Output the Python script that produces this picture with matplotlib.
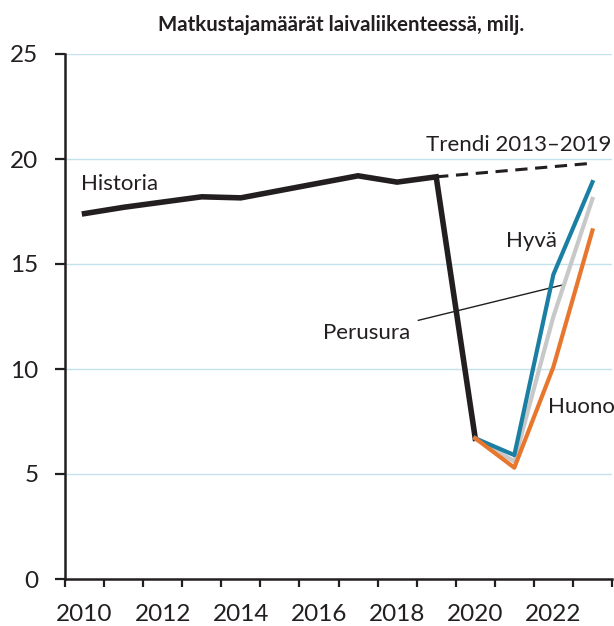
import matplotlib
matplotlib.use('Agg')
import matplotlib.pyplot as plt

# Data (milj. matkustajaa)
hist_years = [2010, 2011, 2012, 2013, 2014, 2015, 2016, 2017, 2018, 2019, 2020]
historia = [17.4, 17.7, 17.95, 18.2, 18.15, 18.5, 18.85, 19.2, 18.9, 19.15, 6.7]

scen_years = [2020, 2021, 2022, 2023]
hyva = [6.7, 5.9, 14.5, 18.9]
perusura = [6.7, 5.6, 12.5, 18.1]
huono = [6.7, 5.3, 10.1, 16.6]

trend_years = [2019, 2023]
trendi = [19.15, 19.8]

label_years = [2010, 2012, 2014, 2016, 2018, 2020, 2022]
y_ticks = [0, 5, 10, 15, 20, 25]

# colours
black = '#231f20'
blue = '#1a7fa3'
grey = '#c8c8c8'
orange = '#e8772e'
grid_color = '#c3e2eb'

plt.rcParams['font.family'] = ['Lato', 'DejaVu Sans']

fig = plt.figure(figsize=(6.14, 6.26), dpi=100)
ax = fig.add_axes([65 / 614, 47 / 626, 547 / 614, 525 / 626])

# gridlines
for y in y_ticks[1:]:
    ax.axhline(y, color=grid_color, lw=1.0, zorder=0)

ax.plot(hist_years, historia, color=black, lw=4.0, solid_joinstyle='miter', zorder=3, clip_on=False)
ax.plot(trend_years, trendi, color=black, lw=2.2, ls=(0, (4, 2.5)), zorder=3, clip_on=False)
ax.plot(scen_years, perusura, color=grey, lw=3.0, zorder=4, clip_on=False)
ax.plot(scen_years, hyva, color=blue, lw=3.0, zorder=5, clip_on=False)
ax.plot(scen_years, huono, color=orange, lw=3.0, zorder=6, clip_on=False)

# labels
fs = 16
ax.text(2009.92, 18.8, 'Historia', fontsize=fs, color=black, ha='left', va='center')
ax.text(2023.49, 20.67, 'Trendi 2013\u20132019', fontsize=fs, color=black, ha='right', va='center')
ax.text(2022.1, 16.1, 'Hyvä', fontsize=fs, color=black, ha='right', va='center')
ax.text(2021.87, 8.19, 'Huono', fontsize=fs, color=black, ha='left', va='center')
ax.annotate('Perusura', xy=(2022.23, 14.0), xytext=(2018.33, 11.71),
            fontsize=fs, color=black, ha='right', va='center',
            arrowprops=dict(arrowstyle='-', color=black, lw=1.0, shrinkA=4, shrinkB=0))

# axes
ax.set_xlim(2009.5, 2023.5)
ax.set_ylim(0, 25)
ax.set_yticks(y_ticks)
ax.tick_params(axis='y', length=7, width=1.6, color=black, labelsize=17.5, pad=12, labelcolor=black)

# category boundaries as ticks, year labels between them
ax.set_xticks([y - 0.5 for y in range(2010, 2025)])
ax.set_xticklabels([])
ax.tick_params(axis='x', which='major', length=6, width=1.6, color=black, direction='out')
ax.set_xticks(label_years, minor=True)
ax.set_xticklabels([str(y) for y in label_years], minor=True)
ax.tick_params(axis='x', which='minor', length=0, labelsize=17.5, pad=18, labelcolor=black)

for side in ['top', 'right']:
    ax.spines[side].set_visible(False)
for side in ['left', 'bottom']:
    ax.spines[side].set_color(black)
    ax.spines[side].set_linewidth(1.8)

fig.text(341 / 614, 1 - 25 / 626, 'Matkustajamäärät laivaliikenteessä, milj.',
         fontsize=14.7, fontweight='bold', color=black, ha='center', va='center')

fig.savefig('out.png', dpi=100)
plt.close(fig)
